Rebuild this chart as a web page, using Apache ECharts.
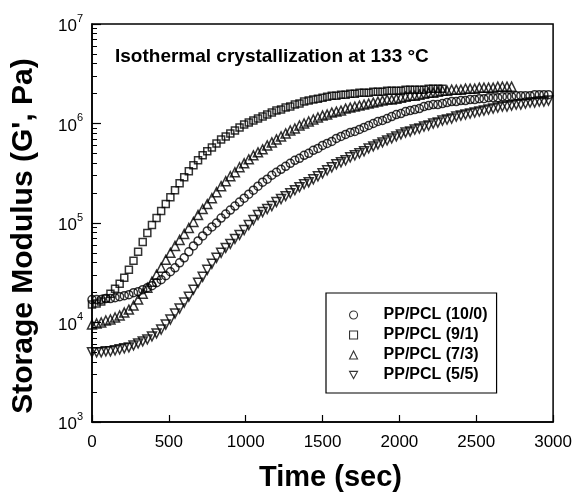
<!DOCTYPE html>
<html>
<head>
<meta charset="utf-8">
<script src="https://cdn.jsdelivr.net/npm/echarts@6/dist/echarts.min.js"></script>
<style>
html,body{margin:0;padding:0;background:#fff;}
#chart{width:575px;height:497px;}
</style>
</head>
<body>
<div id="chart"></div>
<script>
// Sample times (sec)
var timeSec = [
  0,30,60,90,120,150,180,210,240,270,
  300,330,360,390,420,450,480,510,540,570,
  600,630,660,690,720,750,780,810,840,870,
  900,930,960,990,1020,1050,1080,1110,1140,1170,
  1200,1230,1260,1290,1320,1350,1380,1410,1440,1470,
  1500,1530,1560,1590,1620,1650,1680,1710,1740,1770,
  1800,1830,1860,1890,1920,1950,1980,2010,2040,2070,
  2100,2130,2160,2190,2220,2250,2280,2310,2340,2370,
  2400,2430,2460,2490,2520,2550,2580,2610,2640,2670,
  2700,2730,2760,2790,2820,2850,2880,2910,2940,2970
];

var seriesNames = ['PP/PCL (10/0)', 'PP/PCL (9/1)', 'PP/PCL (7/3)', 'PP/PCL (5/5)'];

// log10 of storage modulus G' (Pa)
var logG_10_0 = [
  4.23,4.23,4.23,4.24,4.24,4.25,4.26,4.27,4.28,4.30,
  4.31,4.33,4.35,4.37,4.40,4.43,4.47,4.51,4.55,4.60,
  4.65,4.71,4.77,4.82,4.87,4.92,4.96,5.00,5.05,5.09,
  5.13,5.17,5.21,5.25,5.29,5.33,5.37,5.41,5.44,5.48,
  5.51,5.54,5.57,5.60,5.63,5.65,5.68,5.70,5.73,5.75,
  5.78,5.80,5.82,5.85,5.87,5.89,5.91,5.92,5.94,5.96,
  5.98,6.00,6.02,6.03,6.05,6.07,6.09,6.10,6.12,6.13,
  6.14,6.15,6.17,6.18,6.19,6.19,6.20,6.21,6.22,6.22,
  6.23,6.23,6.24,6.24,6.25,6.25,6.26,6.26,6.26,6.27,
  6.27,6.27,6.28,6.28,6.28,6.28,6.29,6.29,6.29,6.29
];
var logG_9_1 = [
  4.18,4.19,4.21,4.24,4.29,4.34,4.39,4.45,4.53,4.62,
  4.71,4.81,4.90,4.98,5.05,5.12,5.19,5.26,5.33,5.40,
  5.46,5.52,5.58,5.63,5.68,5.72,5.76,5.80,5.84,5.87,
  5.90,5.93,5.96,5.99,6.01,6.03,6.05,6.07,6.09,6.11,
  6.13,6.14,6.16,6.17,6.19,6.20,6.22,6.23,6.24,6.25,
  6.26,6.27,6.28,6.28,6.29,6.29,6.30,6.30,6.31,6.31,
  6.31,6.32,6.32,6.32,6.33,6.33,6.33,6.33,6.34,6.34,
  6.34,6.34,6.34,6.35,6.35,6.35,6.35
];
var logG_7_3 = [
  3.98,3.99,4.00,4.02,4.03,4.05,4.07,4.10,4.13,4.17,
  4.23,4.29,4.35,4.41,4.48,4.55,4.63,4.70,4.77,4.83,
  4.89,4.95,5.01,5.08,5.14,5.19,5.25,5.31,5.37,5.42,
  5.47,5.51,5.56,5.60,5.64,5.68,5.71,5.74,5.78,5.81,
  5.84,5.87,5.90,5.93,5.95,5.98,6.00,6.02,6.04,6.06,
  6.08,6.09,6.11,6.12,6.13,6.15,6.16,6.17,6.18,6.19,
  6.20,6.21,6.22,6.23,6.24,6.24,6.25,6.26,6.27,6.28,
  6.28,6.29,6.30,6.31,6.31,6.32,6.33,6.33,6.34,6.34,
  6.34,6.35,6.35,6.35,6.36,6.36,6.36,6.36,6.37,6.37,
  6.37,6.37
];
var logG_5_5 = [
  3.70,3.70,3.70,3.71,3.71,3.72,3.73,3.74,3.75,3.77,
  3.79,3.81,3.83,3.86,3.89,3.93,3.98,4.03,4.09,4.14,
  4.20,4.26,4.33,4.40,4.46,4.53,4.59,4.65,4.70,4.75,
  4.79,4.84,4.88,4.93,4.98,5.03,5.08,5.11,5.14,5.17,
  5.21,5.24,5.27,5.30,5.33,5.36,5.39,5.41,5.44,5.47,
  5.50,5.53,5.56,5.59,5.61,5.63,5.66,5.68,5.70,5.72,
  5.75,5.77,5.79,5.81,5.83,5.85,5.87,5.89,5.91,5.92,
  5.94,5.95,5.97,5.98,6.00,6.01,6.03,6.04,6.05,6.07,
  6.08,6.09,6.10,6.11,6.12,6.13,6.14,6.15,6.16,6.17,
  6.17,6.18,6.19,6.19,6.20,6.21,6.21,6.22,6.22,6.23
];

var xTicks = [0, 500, 1000, 1500, 2000, 2500, 3000];
var yMajorTicks = [1e3, 1e4, 1e5, 1e6, 1e7];
var yMinorTicks = [];
for (var d = 3; d < 7; d++) {
  for (var m = 2; m <= 9; m++) yMinorTicks.push(m * Math.pow(10, d));
}

var annotation = 'Isothermal crystallization at 133 °C';
var xTitle = 'Time (sec)';
var yTitle = "Storage Modulus (G', Pa)";

function toPairs(logs) {
  return logs.map(function (v, i) { return [timeSec[i], Math.pow(10, v)]; });
}

var FONT = "'Liberation Sans', Arial, Helvetica, sans-serif";
var DOWN_TRI = 'path://M0,0 L10,0 L5,9 Z';
var chart = echarts.init(document.getElementById('chart'), null, {renderer: 'canvas'});

var markerStyle = {color: 'rgba(0,0,0,0)', borderColor: '#000', borderWidth: 1.5};

function mkSeries(name, logs, symbol, size) {
  return {
    name: name,
    type: 'scatter',
    data: toPairs(logs),
    symbol: symbol,
    symbolSize: size,
    itemStyle: markerStyle,
    emphasis: {disabled: true},
    silent: true,
    animation: false
  };
}

var option = {
  backgroundColor: '#fff',
  animation: false,
  textStyle: {fontFamily: FONT, color: '#000'},
  grid: {left: 92, top: 24, right: 20, bottom: 72, show: true, borderColor: '#000', borderWidth: 1.5, backgroundColor: 'transparent'},
  xAxis: {
    type: 'value', min: 0, max: 3000, interval: 500,
    name: xTitle, nameLocation: 'middle', nameGap: 41,
    nameTextStyle: {fontFamily: FONT, fontSize: 29, fontWeight: 'bold', color: '#000', padding: [0, 0, 0, 16]},
    axisLine: {show: true, lineStyle: {color: '#000', width: 1.5}},
    axisTick: {show: true, inside: true, length: 7, lineStyle: {color: '#000', width: 1.2}, customValues: xTicks},
    axisLabel: {
      show: true, margin: 12, fontSize: 17, color: '#000', fontFamily: FONT, customValues: xTicks,
      formatter: function (v) { return String(v); }
    },
    splitLine: {show: false}
  },
  yAxis: [{
    type: 'log', logBase: 10, min: 1e3, max: 1e7,
    name: yTitle, nameLocation: 'middle', nameGap: 53, nameRotate: 90,
    nameTextStyle: {fontFamily: FONT, fontSize: 30, fontWeight: 'bold', color: '#000', padding: [0, 26, 0, 0]},
    axisLine: {show: true, lineStyle: {color: '#000', width: 1.5}},
    axisTick: {show: true, inside: true, length: 9, lineStyle: {color: '#000', width: 1.2}, customValues: yMajorTicks},
    axisLabel: {
      show: true, margin: 9, color: '#000', fontFamily: FONT, customValues: yMajorTicks,
      formatter: function (v) {
        var e = Math.round(Math.log(v) / Math.LN10);
        return '{b|10}{s|' + e + '}';
      },
      rich: {
        b: {fontSize: 17, lineHeight: 22, fontFamily: FONT, color: '#000', verticalAlign: 'bottom'},
        s: {fontSize: 11, lineHeight: 12, fontFamily: FONT, color: '#000', verticalAlign: 'top'}
      }
    },
    splitLine: {show: false}
  }, {
    type: 'log', logBase: 10, min: 1e3, max: 1e7, position: 'left', offset: 0,
    axisLine: {show: false},
    axisTick: {show: true, inside: true, length: 5, lineStyle: {color: '#000', width: 1}, customValues: yMinorTicks},
    axisLabel: {show: false},
    splitLine: {show: false}
  }],
  legend: {
    show: true,
    orient: 'vertical',
    left: 326, top: 293,
    padding: [14, 9, 10, 23],
    itemGap: 4,
    itemWidth: 8, itemHeight: 8,
    borderColor: '#000', borderWidth: 1.2, borderRadius: 0,
    backgroundColor: '#fff',
    data: [
      {name: seriesNames[0], icon: 'circle'},
      {name: seriesNames[1], icon: 'rect'},
      {name: seriesNames[2], icon: 'triangle'},
      {name: seriesNames[3], icon: DOWN_TRI}
    ],
    selectedMode: false,
    itemStyle: {color: 'rgba(0,0,0,0)', borderColor: '#000', borderWidth: 1.1},
    formatter: function (n) { return '{t|' + n + '}'; },
    textStyle: {
      color: '#000',
      rich: {t: {fontFamily: FONT, fontSize: 16, fontWeight: 'bold', color: '#000', padding: [0, 0, 0, 21], lineHeight: 16}}
    }
  },
  graphic: [{
    type: 'text', left: 115, top: 47, silent: true,
    style: {text: annotation, fontFamily: FONT, fontSize: 19, fontWeight: 'bold', fill: '#000'}
  }],
  series: [
    mkSeries(seriesNames[0], logG_10_0, 'circle', 8),
    mkSeries(seriesNames[1], logG_9_1, 'rect', 7),
    mkSeries(seriesNames[2], logG_7_3, 'triangle', 9),
    mkSeries(seriesNames[3], logG_5_5, DOWN_TRI, 9)
  ]
};
chart.setOption(option);
</script>
</body>
</html>
